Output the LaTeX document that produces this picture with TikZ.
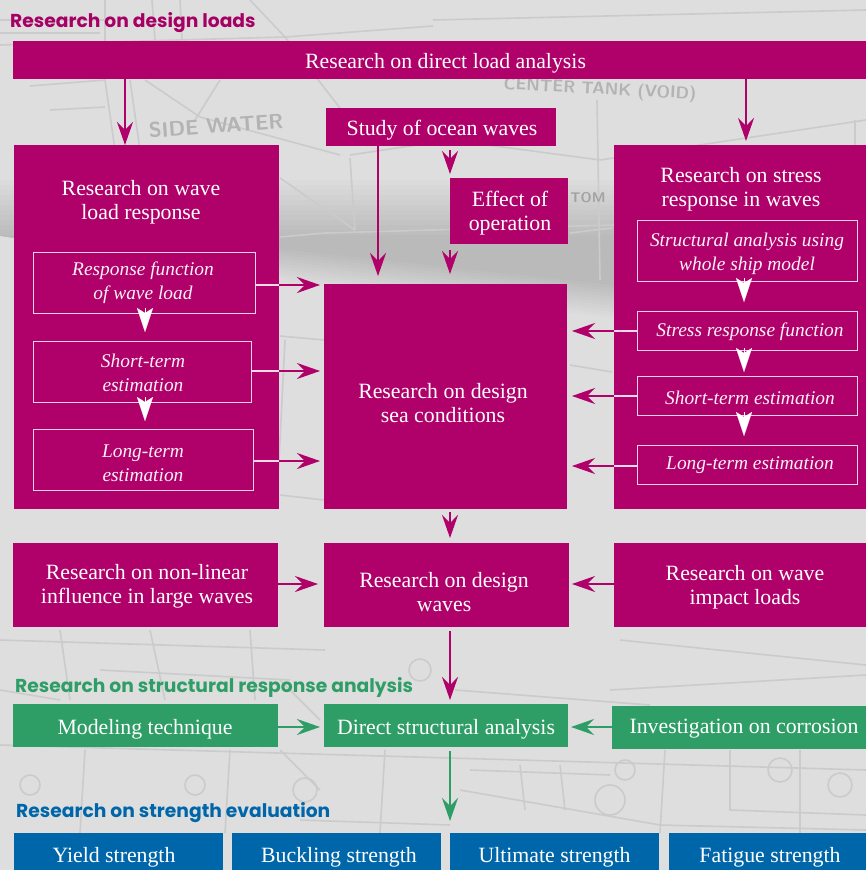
\documentclass[tikz,border=0pt]{standalone}
\usepackage{fontspec}
\setmainfont{Liberation Serif}
\newfontfamily\headfont{Poppins}
\usetikzlibrary{arrows.meta,calc}
\definecolor{pur}{HTML}{B0006A}
\definecolor{grn}{HTML}{2E9E66}
\definecolor{blu}{HTML}{0066AA}
\definecolor{bgc}{HTML}{DEDEDE}
\definecolor{ln}{HTML}{CBCBCB}
\newcommand\bx[7][]{\node[#2,#1,minimum width={(#6-#4)*1pt},minimum height={(#7-#5)*1pt}] (#3) at ({(#4+#6)/2},{(#5+#7)/2}) {};}
\tikzset{
 x=1pt,y=-1pt,
 fillbox/.style={rectangle,inner sep=0pt,outer sep=0pt,draw=none},
 pbox/.style={fillbox,fill=pur},
 gbox/.style={fillbox,fill=grn},
 bbox/.style={fillbox,fill=blu},
 ibox/.style={rectangle,inner sep=0pt,outer sep=0pt,draw=white!82!pur,line width=1pt,fill=pur},
 lab/.style={text=white,align=center,inner sep=0pt,font=\fontsize{21.8}{24}\selectfont},
 ilab/.style={text=white!95!pur,align=center,inner sep=0pt,font=\fontsize{19.4}{24}\selectfont\itshape},
 head/.style={anchor=west,inner sep=0pt,font=\fontsize{18.7}{22}\headfont\bfseries},
 tipp/.style={-{Stealth[length=23pt,width=16pt,inset=8pt]},line width=1.3pt},
 parr/.style={tipp,draw=pur!85!white,color=pur},
 garr/.style={tipp,draw=grn,color=grn},
 warr/.style={-{Stealth[length=24pt,width=16pt,inset=5pt]},line width=0.1pt,draw=white,color=white},
 wline/.style={line width=1.3pt,draw=white!85!pur},
 bgl/.style={draw=ln,line width=1.6pt},
}
\begin{document}
\begin{tikzpicture}
\useasboundingbox (0,0) rectangle (866,870);
% background
\fill[bgc] (0,0) rectangle (866,870);
\foreach \i in {0,...,11}
 {\fill[black,opacity=0.011] (0,{180+5*\i}) -- (866,{180+5*\i}) -- (866,{318-3*\i}) -- (614,{318-3*\i}) -- (280,{282-3*\i}) -- (14,238) -- (0,236) -- cycle;}
\foreach \p in {
 {(0,45) -- (285,37) -- (433,26)},
 {(0,20) -- (110,20)},{(0,33) -- (100,33)},
 {(105,0) -- (105,80) -- (115,150)},{(130,80) -- (140,150)},
 {(180,0) -- (182,40)},{(152,0) -- (155,40)},
 {(250,0) -- (285,37)},{(285,37) -- (340,108)},
 {(145,80) -- (200,117) -- (340,155)},{(220,80) -- (195,120)},
 {(30,86) -- (105,80)},{(50,110) -- (105,107)},
 {(280,178) -- (355,230)},{(350,158) -- (355,230)},{(280,237) -- (325,233) -- (866,218)},
 {(350,155) -- (450,140) -- (600,160) -- (866,120)},
 {(597,100) -- (600,280)},{(855,120) -- (855,145)},
 {(433,20) -- (866,10)},{(570,212) -- (612,208)},{(570,233) -- (612,228)},
 {(280,336) -- (324,340)},{(285,340) -- (278,480)},{(570,365) -- (612,372)},{(280,495) -- (324,500)},
 {(0,640) -- (325,650)},{(620,640) -- (866,665)},
 {(60,630) -- (70,700)},{(150,630) -- (165,700)},{(250,630) -- (255,700)},
 {(0,690) -- (60,700)},{(100,670) -- (290,680)},
 {(455,690) -- (650,705)},{(280,750) -- (320,790)},
 {(280,680) -- (320,720)},{(0,745) -- (866,770)},
 {(85,750) -- (80,833)},{(230,750) -- (225,833)},{(385,750) -- (380,833)},
 {(470,770) -- (610,775)},{(520,765) -- (525,810)},{(560,765) -- (565,810)},
 {(460,790) -- (660,825)},{(665,750) -- (660,833)},{(800,750) -- (800,833)},
 {(730,750) -- (730,810) -- (866,815)},{(610,690) -- (866,675)},
 {(300,820) -- (450,825)},{(660,825) -- (866,830)}}
 {\draw[bgl] \p;}
\foreach \c/\r in {{30,785}/10,{195,785}/10,{305,790}/12,{420,670}/11,{625,770}/10,{780,770}/12,{840,785}/12,{610,800}/15}
 {\draw[bgl] (\c) circle (\r);}
\node[text=ln!88!black,inner sep=0pt,rotate=4,font=\fontsize{21}{21}\sffamily\bfseries] (bgside) at (216,126) {SIDE WATER};
\node[text=ln!88!black,inner sep=0pt,rotate=-3,font=\fontsize{17}{17}\sffamily\bfseries] (bgcenter) at (600,90) {CENTER TANK (VOID)};
\node[text=ln!80!black,inner sep=0pt,font=\fontsize{14}{14}\sffamily\bfseries] (bgbottom) at (588,198) {TOM};
% headings
\node[head,text=pur!95!black] (h1) at (10,23) {Research on design loads};
\node[head,text=grn] (h2) at (15,687) {Research on structural response analysis};
\node[head,text=blu] (h3) at (16,813) {Research on strength evaluation};
% purple boxes
\bx{pbox}{direct}{13}{41}{866}{79}
\bx{pbox}{study}{326}{108}{556}{146}
\bx{pbox}{effect}{450}{178}{568}{244}
\bx{pbox}{wave}{14}{145}{279}{509}
\bx{pbox}{stress}{614}{145}{866}{509}
\bx{pbox}{sea}{324}{284}{567}{509}
\bx{pbox}{nonlin}{13}{543}{278}{627}
\bx{pbox}{dwaves}{324}{543}{569}{627}
\bx{pbox}{impact}{614}{543}{866}{627}
% inner boxes
\bx{ibox}{lresp}{33}{252.5}{255}{313.5}
\bx{ibox}{lshort}{33}{341}{251}{402}
\bx{ibox}{llong}{33}{429.5}{253}{490}
\bx{ibox}{rstruct}{637}{220.5}{857}{281}
\bx{ibox}{rfunc}{637}{311.5}{857}{350.5}
\bx{ibox}{rshort}{637}{376}{857}{415}
\bx{ibox}{rlong}{637}{445}{857}{484}
% green and blue boxes
\bx{gbox}{model}{13}{704}{278}{747}
\bx{gbox}{dsa}{324}{704}{568}{747}
\bx{gbox}{corr}{612}{706}{866}{749}
\bx{bbox}{yield}{14}{833}{223}{870}
\bx{bbox}{buck}{232}{833}{441}{870}
\bx{bbox}{ult}{450}{833}{659}{870}
\bx{bbox}{fat}{669}{833}{866}{870}
% texts
\node[lab] (t1) at (445.5,63) {Research on direct load analysis};
\node[lab] (t2) at (442,130) {Study of ocean waves};
\node[lab] (t3) at (510,213.5) {Effect of\\operation};
\node[lab] (t4) at (141,202) {Research on wave\\load response};
\node[lab] (t5) at (741,189.5) {Research on stress\\response in waves};
\node[lab] (t6) at (443,403) {Research on design\\sea conditions};
\node[lab] (t7) at (147,586) {Research on non-linear\\influence in large waves};
\node[lab] (t8) at (444,592) {Research on design\\waves};
\node[lab] (t9) at (745,587) {Research on wave\\impact loads};
\node[ilab] (i1) at (143,283) {Response function\\of wave load};
\node[ilab] (i2) at (143,373) {Short-term\\estimation};
\node[ilab] (i3) at (143,463) {Long-term\\estimation};
\node[ilab] (i4) at (747,254) {Structural analysis using\\whole ship model};
\node[ilab] (i5) at (750,332) {Stress response function};
\node[ilab] (i6) at (750,398) {Short-term estimation};
\node[ilab] (i7) at (750,465) {Long-term estimation};
\node[lab] (g1) at (145,729) {Modeling technique};
\node[lab] (g2) at (446,729) {Direct structural analysis};
\node[lab] (g3) at (744,729) {Investigation on corrosion};
\node[lab] (b1) at (114,857.5) {Yield strength};
\node[lab] (b2) at (339,857.5) {Buckling strength};
\node[lab] (b3) at (554.5,857.5) {Ultimate strength};
\node[lab] (b4) at (770,857.5) {Fatigue strength};
% purple connectors
\draw[parr] (125,0 |- direct.south) -- (125,0 |- wave.north);
\draw[parr] (746,0 |- direct.south) -- ([yshift=4pt]746,0 |- stress.north);
\draw[parr] (378,0 |- study.south) -- ([yshift=8pt]378,0 |- sea.north);
\draw[parr] ([yshift=-4pt]450,0 |- study.south) -- ([yshift=4pt]450,0 |- effect.north);
\draw[parr] ([yshift=-6pt]450,0 |- effect.south) -- ([yshift=10pt]450,0 |- sea.north);
\draw[parr] ([yshift=-3pt]450,0 |- sea.south) -- ([yshift=5pt]450,0 |- dwaves.north);
\draw[parr] ([yshift=-4pt]450,0 |- dwaves.south) -- ([yshift=4pt]450,0 |- dsa.north);
\foreach \a/\y in {lresp/285,lshort/371,llong/461}{
 \draw[wline] (\a.east |- 0,\y) -- (wave.east |- 0,\y);
 \draw[parr] (wave.east |- 0,\y) -- ([xshift=-4pt]sea.west |- 0,\y);
}
\foreach \a/\y in {rfunc/331,rshort/396,rlong/466}{
 \draw[wline] (\a.west |- 0,\y) -- (stress.west |- 0,\y);
 \draw[parr] (stress.west |- 0,\y) -- ([xshift=5pt]sea.east |- 0,\y);
}
\draw[parr] (nonlin.east |- 0,584) -- ([xshift=-6pt]dwaves.west |- 0,584);
\draw[parr] (impact.west |- 0,584) -- ([xshift=3pt]dwaves.east |- 0,584);
% white steps
\draw[warr] (145,308) -- (145,332);
\draw[warr] (145,397) -- (145,421);
\draw[warr] (744,278) -- (744,302);
\draw[warr] (744,348) -- (744,372);
\draw[warr] (744,412) -- (744,436);
% green connectors
\draw[garr] (model.east |- 0,727) -- ([xshift=-4pt]dsa.west |- 0,727);
\draw[garr] (corr.west |- 0,727) -- ([xshift=3pt]dsa.east |- 0,727);
\draw[garr] ([yshift=-4pt]450,0 |- dsa.south) -- ([yshift=12pt]450,0 |- ult.north);
\end{tikzpicture}
\end{document}
